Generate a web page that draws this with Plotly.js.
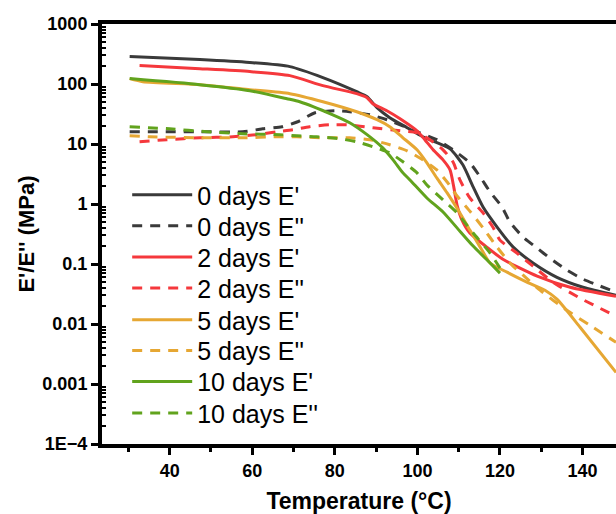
<!DOCTYPE html>
<html>
<head>
<meta charset="utf-8">
<script src="https://cdn.plot.ly/plotly-3.0.1.min.js"></script>
<style>html,body{margin:0;padding:0;background:#fff;}#chart{width:616px;height:514px;}</style>
</head>
<body>
<div id="chart"></div>
<script>
// ---- data ----
const d0_Eprime_T = [30.3,47.3,59.4,69.1,77.1,85.3,87.8,90.2,93.3,97.5,101.3,107.9,111.0,113.5,115.9,119.3,123.2,128.0,133.8,140.1,148.1];
const d0_Eprime_V = [286,255,228,195,128,74.5,61.5,40.3,27.4,18.7,13.2,8.3,4.5,1.93,0.89,0.413,0.191,0.104,0.060,0.041,0.030];

const d0_E2_T = [30.3,47.3,57.7,62.5,67.2,71.0,75.2,80.0,83.6,88.5,92.6,99.9,104.7,108.6,112.7,115.2,117.6,120.5,122.4,125.6,129.0,132.1,136.2,140.1,144.2,148.1];
const d0_E2_V = [16.0,16.0,16.0,17.9,19.4,23.5,33.2,35.9,34.5,30.7,25.4,16.0,11.8,8.0,4.85,2.83,1.59,0.89,0.50,0.281,0.184,0.125,0.079,0.056,0.043,0.034];

const d2_Eprime_T = [32.7,47.3,59.4,69.1,77.1,85.3,87.8,89.2,92.6,95.8,99.9,101.8,103.8,106.2,107.9,108.8,109.6,110.8,112.7,116.8,120.7,129.0,137.0,148.1];
const d2_Eprime_V = [203,180,161,138,93.8,69,59.1,47,35.9,26.4,16.6,11.8,8.0,5.44,3.7,1.93,0.96,0.54,0.328,0.191,0.12,0.063,0.041,0.029];

const d2_E2_T = [32.7,39.3,47.3,55.3,61.1,65.9,69.8,73.9,78.8,82.9,89.2,95.8,99.9,103.0,106.2,108.6,110.3,112.7,115.9,118.3,120.0,124.1,128.0,132.8,139.4,148.1];
const d2_E2_V = [10.9,11.8,12.7,13.2,14.3,16.0,17.3,19.4,20.9,20.9,18.7,16.6,15.4,11.8,8.0,5.05,2.52,1.26,0.71,0.41,0.25,0.152,0.092,0.050,0.027,0.0135];

const d5_Eprime_T = [30.3,33.5,47.3,59.4,69.1,77.1,85.3,90.2,93.3,96.5,99.9,102.3,104.7,107.2,110.3,112.7,115.2,117.6,121.7,126.5,130.9,133.8,139.4,148.1];
const d5_Eprime_V = [123,109,97.5,80.5,69,50.7,34.5,25.4,19.4,12.7,8.0,4.85,2.72,1.53,0.71,0.368,0.191,0.104,0.073,0.050,0.0366,0.0259,0.00883,0.00156];

const d5_E2_T = [30.3,35.2,47.3,57.7,65.9,70.8,77.1,83.6,88.5,93.3,97.5,101.3,104.7,107.2,109.6,112.7,115.9,119.3,122.4,125.6,129.7,136.2,141.8,148.1];
const d5_E2_V = [13.7,13.2,12.7,12.7,13.2,13.2,12.7,12.7,11.8,9.7,7.7,5.44,3.7,2.33,1.36,0.76,0.40,0.191,0.104,0.065,0.0366,0.0169,0.0095,0.00495];

const d10_Eprime_T = [30.3,47.3,59.4,68.4,71.5,79.5,83.6,87.8,91.6,94.1,96.5,98.2,102.3,106.2,109.6,113.5,117.6,120.0];
const d10_Eprime_V = [123,97.5,77.4,56.9,50.7,30.7,22.6,14.3,8.6,5.45,3.3,2.52,1.26,0.735,0.40,0.199,0.104,0.0705];

const d10_E2_T = [30.3,40.0,49.0,57.7,66.7,70.8,75.6,81.2,85.3,89.2,93.3,96.5,99.9,102.3,106.2,109.6,113.5,117.6,120.0];
const d10_E2_V = [19.4,17.9,16.0,14.8,14.3,13.7,13.2,12.2,10.9,9.0,7.1,5.05,3.3,2.08,1.17,0.71,0.328,0.152,0.0855];

const seriesNames = ["0 days E'","0 days E''","2 days E'","2 days E''","5 days E'","5 days E''","10 days E'","10 days E''"];
const yTickVals = [1000,100,10,1,0.1,0.01,0.001,0.0001];
const yTickText = ["1000","100","10","1","0.1","0.01","0.001","1E\u22124"];
const xTickVals = [40,60,80,100,120,140];

// ---- styling ----
const cDark = '#3a3a3a', cRed = '#f5383c', cGold = '#e6a733', cGreen = '#61a31d';
const dashPat = '10px,8px';
const font = 'Liberation Sans, Arial, sans-serif';
function tr(x, y, name, color, dashed, idx) {
  return {x: x, y: y, name: name, type: 'scatter', mode: 'lines',
          legend: idx === 0 ? 'legend' : 'legend' + (idx + 1),
          line: {color: color, width: 3, dash: dashed ? dashPat : 'solid', shape: 'spline', smoothing: 0.6}};
}
const data = [
  tr(d0_Eprime_T, d0_Eprime_V, seriesNames[0], cDark, false, 0),
  tr(d0_E2_T, d0_E2_V, seriesNames[1], cDark, true, 1),
  tr(d2_Eprime_T, d2_Eprime_V, seriesNames[2], cRed, false, 2),
  tr(d2_E2_T, d2_E2_V, seriesNames[3], cRed, true, 3),
  tr(d5_Eprime_T, d5_Eprime_V, seriesNames[4], cGold, false, 4),
  tr(d5_E2_T, d5_E2_V, seriesNames[5], cGold, true, 5),
  tr(d10_Eprime_T, d10_Eprime_V, seriesNames[6], cGreen, false, 6),
  tr(d10_E2_T, d10_E2_V, seriesNames[7], cGreen, true, 7)
];

const minorVals = [];
for (let e = -4; e < 3; e++) { for (let m = 2; m <= 9; m++) { minorVals.push(m * Math.pow(10, e)); } }

const layout = {
  width: 616, height: 514,
  margin: {l: 102, r: 0, t: 24, b: 70},
  paper_bgcolor: '#fff', plot_bgcolor: '#fff',
  font: {family: font, color: '#000'},
  showlegend: true,
  xaxis: {
    range: [23.6, 148.1], showgrid: false, zeroline: false,
    showline: true, linewidth: 4, linecolor: '#000', mirror: true,
    tickmode: 'array', tickvals: xTickVals,
    ticks: 'outside', ticklen: 7, tickwidth: 3, tickcolor: '#000',
    minor: {ticks: 'outside', ticklen: 4, tickwidth: 3, tickcolor: '#000', dtick: 10, tick0: 0, showgrid: false},
    tickfont: {family: font, size: 18, color: '#000', weight: 'bold'},
    title: {text: 'Temperature (\u00B0C)', font: {family: font, size: 23, color: '#000', weight: 'bold'}, standoff: 16}
  },
  yaxis: {
    type: 'log', range: [-4, 3], showgrid: false, zeroline: false,
    showline: true, linewidth: 4, linecolor: '#000',
    tickmode: 'array', tickvals: yTickVals, ticktext: yTickText,
    ticks: 'outside', ticklen: 7, tickwidth: 3, tickcolor: '#000',
    minor: {ticks: 'inside', ticklen: 4, tickwidth: 2, tickcolor: '#000', tickmode: 'array', tickvals: minorVals, showgrid: false},
    tickfont: {family: font, size: 18, color: '#000', weight: 'bold'},
    title: {text: "E'/E'' (MPa)", font: {family: font, size: 22, color: '#000', weight: 'bold'}, standoff: 3}
  }
};

// one single-item legend per series so the rows sit at the reference spacing
const legendRowsPx = [195, 226, 257.3, 288.3, 320, 350.7, 381.7, 413.3];
const plotTop = 24, plotH = 420;
legendRowsPx.forEach(function (py, i) {
  const key = i === 0 ? 'legend' : 'legend' + (i + 1);
  layout[key] = {
    x: 0.049, y: (plotTop + plotH - py) / plotH, xanchor: 'left', yanchor: 'middle',
    bgcolor: 'rgba(0,0,0,0)', borderwidth: 0,
    font: {family: font, size: 25, color: '#000'}, itemwidth: 60
  };
});

Plotly.newPlot('chart', data, layout, {displayModeBar: false, staticPlot: true});
</script>
</body>
</html>
